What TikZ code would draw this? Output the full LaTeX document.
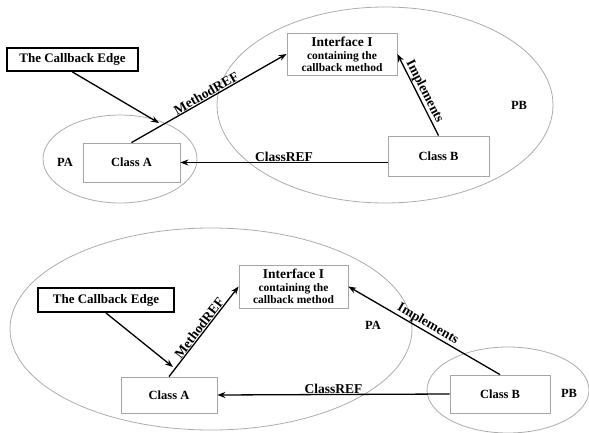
\documentclass[tikz,border=0pt]{standalone}
\usepackage{fontspec}
\setmainfont{Liberation Serif}
\usetikzlibrary{arrows.meta}
\begin{document}
\begin{tikzpicture}[x=1pt,y=-1pt,
  pkg/.style={draw=gray!65, line width=0.8pt},
  cls/.style={draw=gray!70, line width=0.8pt, fill=white, inner sep=0pt,
    font=\bfseries\fontsize{12.5}{14}\selectfont},
  note/.style={draw=black, line width=2pt, fill=white, inner sep=0pt,
    font=\bfseries\fontsize{13}{15}\selectfont},
  ifc/.style={cls, align=center},
  pname/.style={font=\bfseries\fontsize{12.5}{14}\selectfont, inner sep=0pt},
  ref/.style={draw=black, line width=1.3pt, -{Stealth[length=8pt,width=6pt]}},
  lbl/.style={font=\bfseries\fontsize{13.5}{15}\selectfont, sloped, above, inner sep=0.5pt}
]
\useasboundingbox (0,0) rectangle (589,433);

% ---------- upper scenario: callback edge from PA into PB ----------
\draw[pkg] (120,159) ellipse [x radius=77, y radius=44];
\draw[pkg] (385,105) ellipse [x radius=168, y radius=98];
\node[pname] (pa1) at (65,162) {PA};
\node[pname] (pb1) at (519,105) {PB};

\node[note, minimum width=131pt, minimum height=23pt] (cb1) at (72.5,59.5) {The Callback Edge};
\node[cls, minimum width=97pt, minimum height=39pt] (ca1) at (131.5,162.5) {Class A};
\node[ifc, minimum width=110pt, minimum height=42pt] (if1) at (342,54)
  {{\fontsize{13.5}{13}\selectfont Interface I}\\[-1pt]{\fontsize{11.5}{12}\selectfont containing the}\\[-2pt]{\fontsize{11.5}{12}\selectfont callback method}};
\node[cls, minimum width=101pt, minimum height=40pt] (cbB1) at (438.5,156) {Class B};

\draw[ref] (ca1.north) -- node[lbl] {MethodREF} (if1.west);
\draw[ref] (cbB1.north) -- node[lbl] {Implements} (if1.east);
\draw[ref] (cbB1.west |- ca1.east) -- node[lbl] {ClassREF} (ca1.east);
\coordinate (hit1) at (159,123);
\draw[ref] (cb1.south) -- (hit1);

% ---------- lower scenario: callback edge inside PA ----------
\draw[pkg] (211,329) ellipse [x radius=201, y radius=101];
\draw[pkg] (508,390) ellipse [x radius=81, y radius=43];
\node[pname] (pa2) at (373,325) {PA};
\node[pname] (pb2) at (569,393) {PB};

\node[note, minimum width=136pt, minimum height=24pt] (cb2) at (106,300) {The Callback Edge};
\node[cls, minimum width=96pt, minimum height=36pt] (ca2) at (169,395) {Class A};
\node[ifc, minimum width=109pt, minimum height=43pt] (if2) at (293.5,286.5)
  {{\fontsize{13.5}{13}\selectfont Interface I}\\[-1pt]{\fontsize{11.5}{12}\selectfont containing the}\\[-2pt]{\fontsize{11.5}{12}\selectfont callback method}};
\node[cls, minimum width=100pt, minimum height=38pt] (cbB2) at (500,394) {Class B};

\draw[ref] (ca2.north) -- node[lbl] {MethodREF} (if2.west);
\draw[ref] (cbB2.north) -- node[lbl] {Implements} (if2.east);
\draw[ref] (cbB2.west) -- node[lbl] {ClassREF} (ca2.east);
\coordinate (hit2) at (173,367);
\draw[ref] (cb2.south) -- (hit2);
\end{tikzpicture}
\end{document}
